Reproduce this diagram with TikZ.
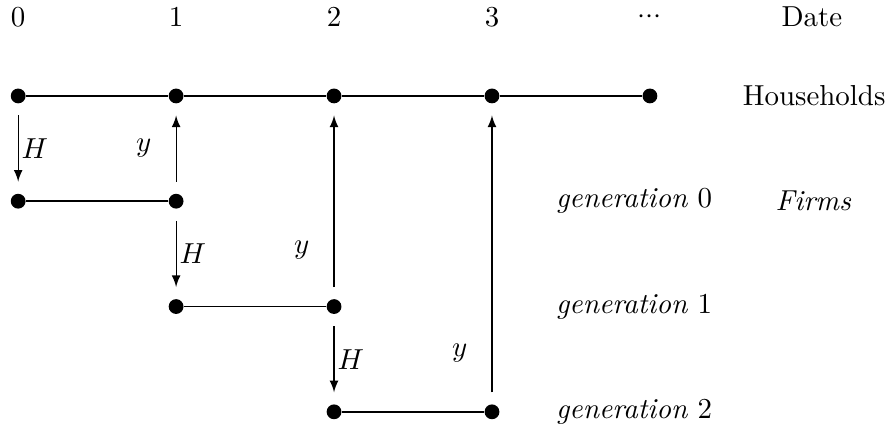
\documentclass[tikz,border=0pt]{standalone}
\usepackage{tikz}

\tikzset{
  dot/.style = {circle, fill=black, inner sep=0pt, minimum size=0.18cm},
  period/.style = {semithick},
  flow/.style = {-latex, thin, shorten >=4pt, shorten <=4pt}
}

\begin{document}
\begin{tikzpicture}[x=0.96cm, y=0.96cm]
      \useasboundingbox (-0.23,-4.23) rectangle (11.04,1.215);
      % Dates
      \node (d0) at (0,1) {0};
      \node (d1) at (2,1) {1};
      \node (d2) at (4,1) {2};
      \node (d3) at (6,1) {3};
      \node (d4) at (8,1) {${\cdot}{\cdot}{\cdot}$};
      \node (date) at (10.05,1) {Date};

      % Vertices
      \node[dot] (h0) at (0,0) {};
      \node[dot] (h1) at (2,0) {};
      \node[dot] (h2) at (4,0) {};
      \node[dot] (h3) at (6,0) {};
      \node[dot] (h4) at (8,0) {};
      \node[dot] (g0s) at (0,-1.333) {};
      \node[dot] (g0e) at (2,-1.333) {};
      \node[dot] (g1s) at (2,-2.667) {};
      \node[dot] (g1e) at (4,-2.667) {};
      \node[dot] (g2s) at (4,-4) {};
      \node[dot] (g2e) at (6,-4) {};

      % Labels
      \node (house) at (10.08,0) {Households};
      \node (firms) at (10.07,-1.333) {\textit{Firms}};
      \node (gen0) at (7.8,-1.333) {\textit{generation} 0};
      \node (gen1) at (7.8,-2.667) {\textit{generation} 1};
      \node (gen2) at (7.8,-4) {\textit{generation} 2};

      % Edges
      \draw[period] (h0) -- (h1) -- (h2) -- (h3) -- (h4);
      \draw[period] (g0s) -- (g0e);
      \draw[period] (g1s) -- (g1e);
      \draw[period] (g2s) -- (g2e);
      \draw[flow] (h0) -- node[right, inner sep=1pt] {$H$} (g0s);
      \draw[flow] (g0e) -- node[right, inner sep=1pt] {$H$} (g1s);
      \draw[flow] (g1e) -- node[right, inner sep=1pt] {$H$} (g2s);
      \draw[flow] (g0e) -- node[left=5pt] {$y$} (h1);
      \draw[flow] (g1e) -- node[left=5pt, pos=0.25] {$y$} (h2);
      \draw[flow] (g2e) -- node[left=5pt, pos=0.17] {$y$} (h3);
\end{tikzpicture}
\end{document}
